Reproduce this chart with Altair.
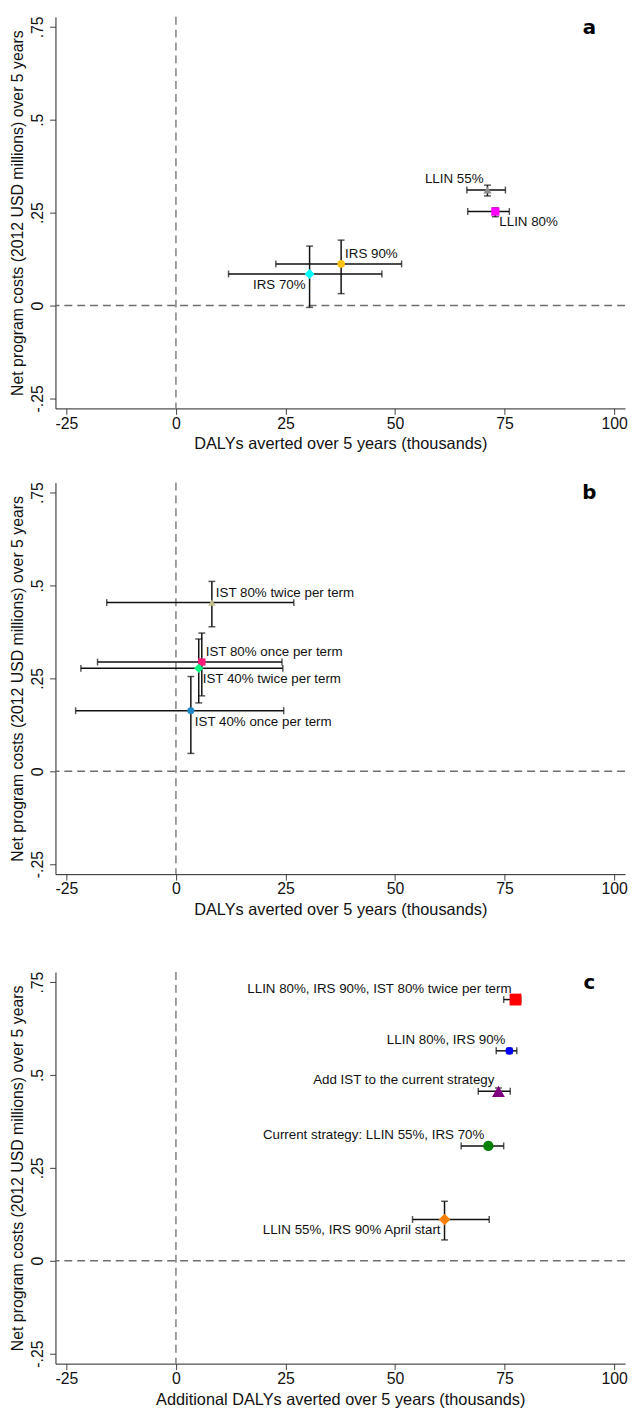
import altair as alt
import pandas as pd

# ---------------- data ----------------
# Panel a
A_LABELS = ["LLIN 55%", "LLIN 80%", "IRS 90%", "IRS 70%"]
A_X = [71.1, 72.9, 37.7, 30.5]
A_XLO = [66.4, 66.6, 22.8, 12.0]
A_XHI = [75.2, 76.1, 51.5, 47.0]
A_Y = [0.311, 0.253, 0.112, 0.085]
A_YLO = [0.295, 0.239, 0.032, -0.005]
A_YHI = [0.324, 0.263, 0.176, 0.160]
A_POS = [11, 4, 1, 7]

# Panel b
B_LABELS = ["IST 80% twice per term", "IST 80% once per term",
            "IST 40% twice per term", "IST 40% once per term"]
B_X = [8.2, 5.9, 5.2, 3.4]
B_XLO = [-15.8, -17.9, -21.7, -22.9]
B_XHI = [26.9, 24.2, 24.4, 24.6]
B_Y = [0.454, 0.294, 0.277, 0.163]
B_YLO = [0.389, 0.203, 0.184, 0.048]
B_YHI = [0.511, 0.372, 0.356, 0.255]
B_POS = [1, 1, 4, 4]

# Panel c
C_LABELS = ["LLIN 80%, IRS 90%, IST 80% twice per term", "LLIN 80%, IRS 90%",
            "Add IST to the current strategy", "Current strategy: LLIN 55%, IRS 70%",
            "LLIN 55%, IRS 90% April start"]
C_X = [77.5, 76.1, 73.6, 71.3, 61.3]
C_XLO = [74.8, 73.1, 69.0, 65.1, 54.0]
C_XHI = [78.7, 77.8, 76.3, 74.8, 71.5]
C_Y = [0.703, 0.565, 0.456, 0.309, 0.111]
C_YLO = [0.695, 0.558, 0.447, 0.300, 0.056]
C_YHI = [0.711, 0.572, 0.465, 0.318, 0.160]
C_POS = [11, 11, 11, 11, 7]

X_TICKS = [-25, 0, 25, 50, 75, 100]
Y_TICKS = [-0.25, 0, 0.25, 0.5, 0.75]
Y_TITLE = "Net program costs (2012 USD millions) over 5 years"
X_TITLE_AB = "DALYs averted over 5 years (thousands)"
X_TITLE_C = "Additional DALYs averted over 5 years (thousands)"

# ---------------- styles ----------------
A_COLORS = ["#8c8c8c", "#ff00ff", "#ffc20e", "#00ffff"]
A_SHAPES = ["triangle-up", "square", "circle", "diamond"]
A_SIZES = [70, 70, 60, 100]
B_COLORS = ["#c8bf8c", "#ff1a7a", "#00ff80", "#1f88c8"]
B_SHAPES = ["triangle-up", "square", "diamond", "circle"]
B_SIZES = [56, 56, 90, 50]
C_COLORS = ["#ff0000", "#0000ff", "#800080", "#008000", "#ff8000"]
C_SHAPES = ["square", "circle", "triangle-up", "circle", "diamond"]
C_SIZES = [144, 62, 169, 110, 137]

FONT = "Liberation Sans"
W, H = 576, 396
XDOM = [-27.5, 102.5]
YDOM = [-0.277, 0.777]

POS_STYLE = {
    1: dict(align="left", dx=4, dy=-10),
    4: dict(align="left", dx=4, dy=11),
    7: dict(align="right", dx=-4, dy=11),
    11: dict(align="right", dx=-4, dy=-11),
}


def panel(labels, x, xlo, xhi, y, ylo, yhi, pos, colors, shapes, sizes, letter, xtitle):
    df = pd.DataFrame(dict(label=labels, x=x, xlo=xlo, xhi=xhi, y=y, ylo=ylo,
                           yhi=yhi, pos=pos, color=colors, shape=shapes, size=sizes))
    xs = alt.Scale(domain=XDOM, nice=False, zero=False)
    ys = alt.Scale(domain=YDOM, nice=False, zero=False)
    xaxis = alt.Axis(title=xtitle, values=X_TICKS, grid=False,
                     labelExpr="(datum.value < 0 ? '-' : '') + format(abs(datum.value), 'd')",
                     tickSize=6, labelPadding=1, titlePadding=5,
                     labelFontSize=16, titleFontSize=16.5, labelFont=FONT, titleFont=FONT,
                     titleFontWeight="normal", domainColor="#222222", tickColor="#444444",
                     labelColor="#111111", titleColor="#111111", labelFlush=False,
                     labelOverlap=False)
    yaxis = alt.Axis(title=Y_TITLE, values=Y_TICKS, grid=False,
                     labelExpr="datum.value == 0 ? '0' : (datum.value < 0 ? '-' : '') + replace(format(abs(datum.value), '.2~f'), '0.', '.')",
                     labelAngle=270, labelAlign="center", labelBaseline="bottom",
                     tickSize=6, labelPadding=4, titlePadding=4,
                     labelFontSize=16, titleFontSize=16, labelFont=FONT, titleFont=FONT,
                     titleFontWeight="normal", domainColor="#222222", tickColor="#444444",
                     labelColor="#111111", titleColor="#111111", labelOverlap=False)

    def X(f):
        return alt.X(f"{f}:Q", scale=xs, axis=xaxis, title=xtitle)

    def Y(f):
        return alt.Y(f"{f}:Q", scale=ys, axis=yaxis, title=Y_TITLE)

    zero = pd.DataFrame({"v": [0]})
    dash = dict(strokeDash=[8, 5], color="#6e6e6e", strokeWidth=1.3)
    vline = alt.Chart(zero).mark_rule(**dash).encode(x=X("v"))
    hline = alt.Chart(zero).mark_rule(**dash).encode(y=Y("v"))

    base = alt.Chart(df)
    bar = dict(color="#111111", strokeWidth=1.5)
    hbar = base.mark_rule(**bar).encode(x=X("xlo"), x2="xhi", y=Y("y"))
    vbar = base.mark_rule(**bar).encode(x=X("x"), y=Y("ylo"), y2="yhi")
    cap = dict(color="#111111", thickness=1.5, size=7)
    c1 = base.mark_tick(orient="vertical", **cap).encode(x=X("xlo"), y=Y("y"))
    c2 = base.mark_tick(orient="vertical", **cap).encode(x=X("xhi"), y=Y("y"))
    c3 = base.mark_tick(orient="horizontal", **cap).encode(x=X("x"), y=Y("ylo"))
    c4 = base.mark_tick(orient="horizontal", **cap).encode(x=X("x"), y=Y("yhi"))

    pts = base.mark_point(filled=True, opacity=1).encode(
        x=X("x"), y=Y("y"),
        color=alt.Color("color:N", scale=None),
        shape=alt.Shape("shape:N", scale=None),
        size=alt.Size("size:Q", scale=None),
    )

    layers = [vline, hline, hbar, vbar, c1, c2, c3, c4, pts]
    for p in sorted(set(pos)):
        st = POS_STYLE[p]
        layers.append(
            base.transform_filter(alt.datum.pos == p)
            .mark_text(font=FONT, fontSize=13.5, color="#111111", baseline="middle", **st)
            .encode(x=X("x"), y=Y("y"), text="label:N")
        )
    lett = alt.Chart(pd.DataFrame({"t": [letter]})).mark_text(
        font="DejaVu Sans", fontWeight="bold", fontSize=20, color="#000000",
        baseline="middle", align="center"
    ).encode(text="t:N", x=alt.value(W - 36), y=alt.value(11))
    layers.append(lett)
    return alt.layer(*layers).properties(width=W, height=H)


pa = panel(A_LABELS, A_X, A_XLO, A_XHI, A_Y, A_YLO, A_YHI, A_POS,
           A_COLORS, A_SHAPES, A_SIZES, "a", X_TITLE_AB)
pb = panel(B_LABELS, B_X, B_XLO, B_XHI, B_Y, B_YLO, B_YHI, B_POS,
           B_COLORS, B_SHAPES, B_SIZES, "b", X_TITLE_AB)
pc = panel(C_LABELS, C_X, C_XLO, C_XHI, C_Y, C_YLO, C_YHI, C_POS,
           C_COLORS, C_SHAPES, C_SIZES, "c", X_TITLE_C)

inner = alt.vconcat(pa, pb, spacing=29)
chart = alt.vconcat(inner, pc, spacing=53).configure_view(stroke=None).properties(
    padding={"left": 2, "top": 0, "right": 0, "bottom": 0},
    background="white",
)

chart.save("out.html", embed_options={"renderer": "svg", "actions": False})
